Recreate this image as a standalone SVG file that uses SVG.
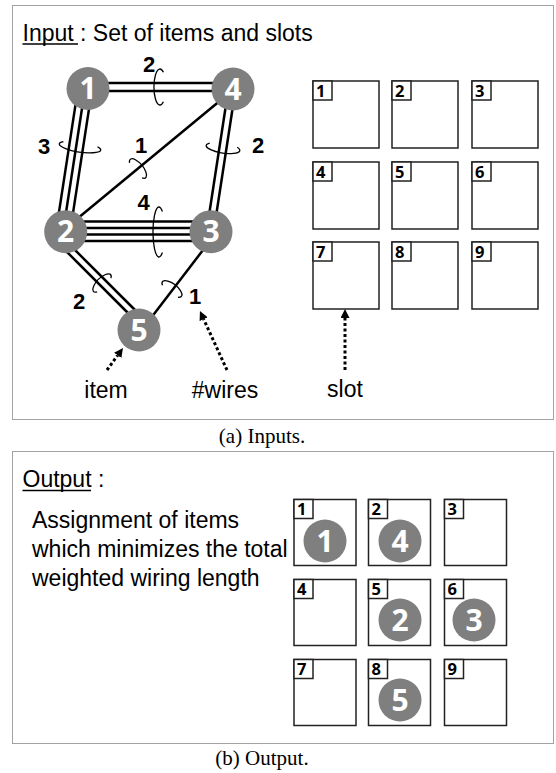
<svg xmlns="http://www.w3.org/2000/svg" width="556" height="773" viewBox="0 0 556 773">
<style>
.frame{fill:none;stroke:#444;stroke-width:1;stroke-dasharray:1 1}
.txt{font-family:"Liberation Sans",Arial,sans-serif;font-size:23px;fill:#000}
.cap{font-family:"Liberation Serif","Times New Roman",serif;font-size:21px;fill:#000;text-anchor:middle}
.wire{stroke:#000;stroke-width:2.5;fill:none}
.coil{stroke:#000;stroke-width:1.3;fill:none}
.wl{font-family:"Liberation Sans",Arial,sans-serif;font-weight:bold;font-size:22px;fill:#000;text-anchor:middle}
.node{fill:#7f7f7f}
.nl{font-family:"Open Sans","DejaVu Sans",sans-serif;font-weight:bold;font-size:30px;fill:#fff;text-anchor:middle}
.slot{fill:#fff;stroke:#222;stroke-width:1.5}
.tag{fill:#fff;stroke:#222;stroke-width:1.5}
.sl{font-family:"Open Sans","DejaVu Sans",sans-serif;font-weight:bold;font-size:16.5px;fill:#000}
.arr{stroke:#000;stroke-width:3;stroke-dasharray:3 2.5;fill:none}
</style>
<defs>
<marker id="ah" viewBox="0 0 10 10" refX="0" refY="5" markerWidth="9" markerHeight="9" markerUnits="userSpaceOnUse" orient="auto">
<path d="M0,0 L10,5 L0,10 z" fill="#000"/>
</marker>
</defs>
<rect width="556" height="773" fill="#fff"/>

<!-- (a) Inputs -->
<rect class="frame" x="12.5" y="5.5" width="541" height="414"/>
<text class="txt" x="22.5" y="41">Input : Set of items and slots</text>
<line x1="22.5" y1="44" x2="78" y2="44" stroke="#000" stroke-width="1.5"/>

<g id="connectors">
<!-- 1-4 double -->
<line class="wire" x1="88" y1="83" x2="233" y2="83"/>
<line class="wire" x1="88" y1="91" x2="233" y2="91"/>
<!-- 1-2 triple -->
<line class="wire" x1="78.1" y1="87.9" x2="56.1" y2="230.9"/>
<line class="wire" x1="85" y1="89" x2="63" y2="232"/>
<line class="wire" x1="91.9" y1="90.1" x2="69.9" y2="233.1"/>
<!-- 2-4 single -->
<line class="wire" x1="66" y1="228" x2="233" y2="90"/>
<!-- 4-3 double -->
<line class="wire" x1="228.5" y1="88.5" x2="206.5" y2="231.5"/>
<line class="wire" x1="235.5" y1="89.5" x2="213.5" y2="232.5"/>
<!-- 2-3 quadruple -->
<line class="wire" x1="66" y1="221.5" x2="211" y2="221.5"/>
<line class="wire" x1="66" y1="228" x2="211" y2="228"/>
<line class="wire" x1="66" y1="234.5" x2="211" y2="234.5"/>
<line class="wire" x1="66" y1="241" x2="211" y2="241"/>
<!-- 2-5 double -->
<line class="wire" x1="52" y1="237" x2="132" y2="317"/>
<line class="wire" x1="60" y1="235" x2="140" y2="315"/>
<!-- 3-5 single -->
<line class="wire" x1="216.8" y1="232" x2="141.8" y2="330"/>

<!-- coils -->
<path class="coil" transform="translate(160,87)" d="M3.4,-14.7 A6,18 0 1 0 3.4,14.7"/>
<path class="coil" transform="translate(159,232)" d="M3.4,-20.5 A6,25 0 1 0 3.4,20.5"/>
<path class="coil" transform="translate(80,147) rotate(-81.3)" d="M2.9,-17.2 A5,21 0 1 0 2.9,17.2"/>
<path class="coil" transform="translate(223,148) rotate(-81.3)" d="M2.9,-13.9 A5,17 0 1 0 2.9,13.9"/>
<path class="coil" transform="translate(138,168.5) rotate(140.3)" d="M2.9,-9.8 A5,12 0 1 0 2.9,9.8"/>
<path class="coil" transform="translate(102,283) rotate(45)" d="M2.9,-9.8 A5,12 0 1 0 2.9,9.8"/>
<path class="coil" transform="translate(172,289) rotate(127.4)" d="M2.9,-9.8 A5,12 0 1 0 2.9,9.8"/>

<!-- wire counts -->
<text class="wl" x="149" y="72">2</text>
<text class="wl" x="44" y="154">3</text>
<text class="wl" x="141" y="153">1</text>
<text class="wl" x="258" y="153">2</text>
<text class="wl" x="143.5" y="210">4</text>
<text class="wl" x="79" y="309">2</text>
<text class="wl" x="195" y="304">1</text>

<!-- annotation arrows -->
<path class="arr" d="M107,370 L117.7,355.3" marker-end="url(#ah)"/>
<path class="arr" d="M227,370 L203.7,319.2" marker-end="url(#ah)"/>
<path class="arr" d="M345,370 L345,318" marker-end="url(#ah)"/>
</g>

<g id="item1"><circle class="node" cx="88" cy="88.5" r="21.5"/><text class="nl" x="88" y="99">1</text></g>
<g id="item4"><circle class="node" cx="233" cy="89" r="21.5"/><text class="nl" x="233" y="99.5">4</text></g>
<g id="item2"><circle class="node" cx="65.7" cy="231.7" r="21.5"/><text class="nl" x="65.7" y="242.2">2</text></g>
<g id="item3"><circle class="node" cx="211" cy="231.7" r="21.5"/><text class="nl" x="211" y="242.2">3</text></g>
<g id="item5"><circle class="node" cx="139" cy="330" r="21.5"/><text class="nl" x="139" y="340.5">5</text></g>

<text class="txt" x="106" y="398" text-anchor="middle">item</text>
<text class="txt" x="225" y="398" text-anchor="middle">#wires</text>
<text class="txt" x="345" y="397" text-anchor="middle">slot</text>

<g id="in-slots">
<g id="in-slot1"><rect class="slot" x="313" y="81" width="66" height="67"/><rect class="tag" x="313" y="81" width="19" height="19"/><text class="sl" x="316" y="96.5">1</text></g>
<g id="in-slot2"><rect class="slot" x="392" y="81" width="66" height="67"/><rect class="tag" x="392" y="81" width="19" height="19"/><text class="sl" x="395" y="96.5">2</text></g>
<g id="in-slot3"><rect class="slot" x="472" y="81" width="66" height="67"/><rect class="tag" x="472" y="81" width="19" height="19"/><text class="sl" x="475" y="96.5">3</text></g>
<g id="in-slot4"><rect class="slot" x="313" y="162" width="66" height="67"/><rect class="tag" x="313" y="162" width="19" height="19"/><text class="sl" x="316" y="177.5">4</text></g>
<g id="in-slot5"><rect class="slot" x="392" y="162" width="66" height="67"/><rect class="tag" x="392" y="162" width="19" height="19"/><text class="sl" x="395" y="177.5">5</text></g>
<g id="in-slot6"><rect class="slot" x="472" y="162" width="66" height="67"/><rect class="tag" x="472" y="162" width="19" height="19"/><text class="sl" x="475" y="177.5">6</text></g>
<g id="in-slot7"><rect class="slot" x="313" y="242" width="66" height="67"/><rect class="tag" x="313" y="242" width="19" height="19"/><text class="sl" x="316" y="257.5">7</text></g>
<g id="in-slot8"><rect class="slot" x="392" y="242" width="66" height="67"/><rect class="tag" x="392" y="242" width="19" height="19"/><text class="sl" x="395" y="257.5">8</text></g>
<g id="in-slot9"><rect class="slot" x="472" y="242" width="66" height="67"/><rect class="tag" x="472" y="242" width="19" height="19"/><text class="sl" x="475" y="257.5">9</text></g>
</g>

<text class="cap" x="262" y="443">(a) Inputs.</text>

<!-- (b) Output -->
<rect class="frame" x="12.5" y="451.5" width="541" height="292"/>
<text class="txt" x="22.5" y="487">Output :</text>
<line x1="22.5" y1="490.5" x2="91" y2="490.5" stroke="#000" stroke-width="1.5"/>
<text class="txt" x="32" y="528">Assignment of items</text>
<text class="txt" x="32" y="557">which minimizes the total</text>
<text class="txt" x="32" y="586">weighted wiring length</text>

<g id="out-slots">
<g id="out-slot1"><rect class="slot" x="294" y="499.5" width="62" height="66"/><rect class="tag" x="294" y="499.5" width="19" height="19"/><text class="sl" x="297" y="515">1</text></g>
<g id="out-slot2"><rect class="slot" x="368.5" y="499.5" width="62" height="66"/><rect class="tag" x="368.5" y="499.5" width="19" height="19"/><text class="sl" x="371.5" y="515">2</text></g>
<g id="out-slot3"><rect class="slot" x="444.5" y="499.5" width="62" height="66"/><rect class="tag" x="444.5" y="499.5" width="19" height="19"/><text class="sl" x="447.5" y="515">3</text></g>
<g id="out-slot4"><rect class="slot" x="294" y="579.5" width="62" height="66"/><rect class="tag" x="294" y="579.5" width="19" height="19"/><text class="sl" x="297" y="595">4</text></g>
<g id="out-slot5"><rect class="slot" x="368.5" y="579.5" width="62" height="66"/><rect class="tag" x="368.5" y="579.5" width="19" height="19"/><text class="sl" x="371.5" y="595">5</text></g>
<g id="out-slot6"><rect class="slot" x="444.5" y="579.5" width="62" height="66"/><rect class="tag" x="444.5" y="579.5" width="19" height="19"/><text class="sl" x="447.5" y="595">6</text></g>
<g id="out-slot7"><rect class="slot" x="294" y="659.5" width="62" height="66"/><rect class="tag" x="294" y="659.5" width="19" height="19"/><text class="sl" x="297" y="675">7</text></g>
<g id="out-slot8"><rect class="slot" x="368.5" y="659.5" width="62" height="66"/><rect class="tag" x="368.5" y="659.5" width="19" height="19"/><text class="sl" x="371.5" y="675">8</text></g>
<g id="out-slot9"><rect class="slot" x="444.5" y="659.5" width="62" height="66"/><rect class="tag" x="444.5" y="659.5" width="19" height="19"/><text class="sl" x="447.5" y="675">9</text></g>
</g>

<g id="out-item1"><circle class="node" cx="325" cy="541" r="21.5"/><text class="nl" x="325" y="551.5">1</text></g>
<g id="out-item4"><circle class="node" cx="400" cy="541" r="21.5"/><text class="nl" x="400" y="551.5">4</text></g>
<g id="out-item2"><circle class="node" cx="400" cy="620" r="21.5"/><text class="nl" x="400" y="630.5">2</text></g>
<g id="out-item3"><circle class="node" cx="474" cy="620" r="21.5"/><text class="nl" x="474" y="630.5">3</text></g>
<g id="out-item5"><circle class="node" cx="400" cy="700" r="21.5"/><text class="nl" x="400" y="710.5">5</text></g>

<text class="cap" x="262" y="765">(b) Output.</text>
</svg>
